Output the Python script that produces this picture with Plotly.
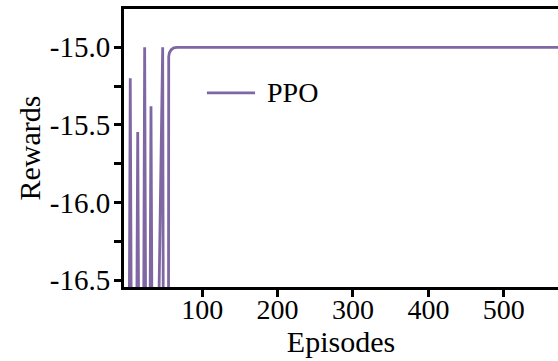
import plotly.graph_objects as go

# PPO training curve: reward per episode
episodes = [0, 3.1, 4.6, 6.1, 13.0, 14.5, 16.0, 22.2, 23.7, 25.2, 30.6, 32.1, 33.6,
            41.5, 47.6, 48.5, 55.3, 55.6, 56.4, 58.8, 62.3, 66.6, 600]
rewards = [-17.0, -17.0, -15.20, -17.0, -17.0, -15.546, -17.0, -17.0, -15.0, -17.0,
           -17.0, -15.38, -17.0, -17.0, -15.0, -17.0, -17.0, -15.061, -15.037,
           -15.016, -15.003, -15.0, -15.0]

series_name = "PPO"
line_color = "#7f67a3"

y_tick_vals = [-15.0, -15.5, -16.0, -16.5]
y_tick_text = ["-15.0", "-15.5", "-16.0", "-16.5"]
y_minor_vals = [-15.25, -15.75, -16.25]
x_tick_vals = [100, 200, 300, 400, 500]

font_family = "Liberation Serif"

fig = go.Figure()
fig.add_trace(go.Scatter(
    x=episodes, y=rewards, mode="lines", name=series_name,
    line=dict(color=line_color, width=2.8),
    showlegend=False,
))

# legend key drawn as a short line plus label
fig.add_shape(type="line", xref="paper", yref="paper",
              x0=0.191, x1=0.302, y0=0.698, y1=0.698,
              line=dict(color=line_color, width=2.8))
fig.add_annotation(xref="paper", yref="paper", x=0.325, y=0.698,
                   text=series_name, showarrow=False, xanchor="left", yanchor="middle",
                   font=dict(family=font_family, size=28, color="black"))

fig.update_layout(
    width=558, height=361,
    margin=dict(l=124, r=0, t=9, b=74),
    paper_bgcolor="white", plot_bgcolor="white",
    font=dict(family=font_family, color="black"),
)
fig.update_xaxes(
    range=[-3.7, 571.9],
    tickmode="array", tickvals=x_tick_vals,
    ticks="outside", ticklen=7, tickwidth=2.5, tickcolor="black",
    ticklabelstandoff=-12,
    tickfont=dict(family=font_family, size=28, color="black"),
    showline=True, linewidth=3, linecolor="black", mirror=True,
    showgrid=False, zeroline=False,
    title=dict(text="Episodes", font=dict(family=font_family, size=30, color="black"), standoff=4),
)
fig.update_yaxes(
    range=[-16.545, -14.753],
    tickmode="array", tickvals=y_tick_vals, ticktext=y_tick_text,
    ticks="outside", ticklen=7, tickwidth=2.5, tickcolor="black",
    ticklabelstandoff=-2,
    minor=dict(tickmode="array", tickvals=y_minor_vals, ticks="outside",
               ticklen=7, tickwidth=2.5, tickcolor="black", showgrid=False),
    tickfont=dict(family=font_family, size=29, color="black"),
    showline=True, linewidth=3, linecolor="black", mirror=False,
    showgrid=False, zeroline=False,
    title=dict(text="Rewards", font=dict(family=font_family, size=30, color="black"), standoff=1),
)

fig.write_html("out.html")
